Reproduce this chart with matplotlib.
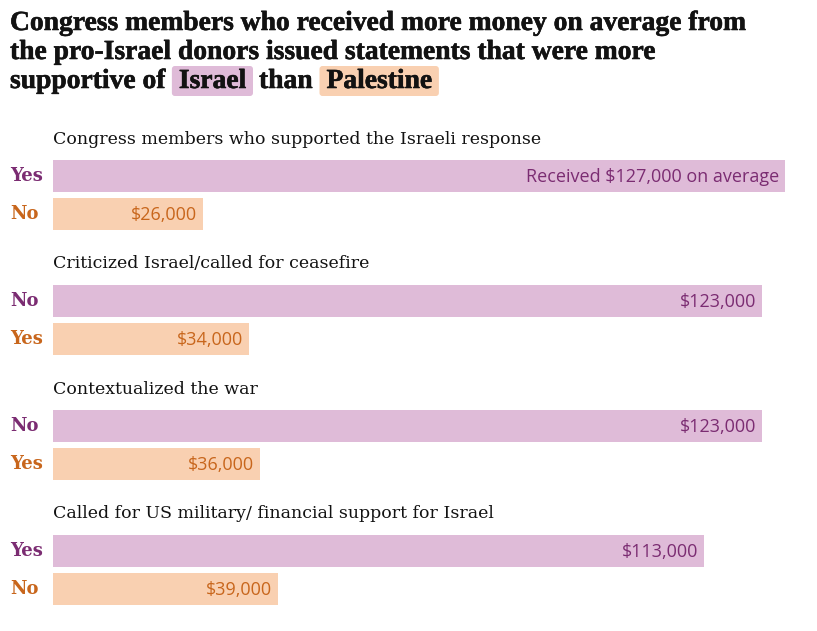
import matplotlib
matplotlib.use("Agg")
import matplotlib.pyplot as plt
import matplotlib.patheffects as pe
from matplotlib.patches import FancyBboxPatch

# ---- data ----
headings = [
    "Congress members who supported the Israeli response",
    "Criticized Israel/called for ceasefire",
    "Contextualized the war",
    "Called for US military/ financial support for Israel",
]
israel_labels = ["Yes", "No", "No", "Yes"]
israel_values = [127000, 123000, 123000, 113000]
palestine_labels = ["No", "Yes", "Yes", "No"]
palestine_values = [26000, 34000, 36000, 39000]

title_lines = [
    "Congress members who received more money on average from",
    "the pro-Israel donors issued statements that were more",
]

PURPLE_BAR = "#dfbbd8"
ORANGE_BAR = "#f9d0b1"
PURPLE_TXT = "#7b2c72"
ORANGE_TXT = "#c8661c"

W, H = 817, 631
fig = plt.figure(figsize=(W / 100, H / 100), dpi=100)
ax = fig.add_axes([0, 0, 1, 1])
ax.set_axis_off()

x0px, x1px = 53, 785
scale = (x1px - x0px) / max(israel_values)  # px per dollar
ax.set_xlim(-x0px / scale, (W - x0px) / scale)
ax.set_ylim(H, 0)

def px2x(px):
    return (px - x0px) / scale

serif = "DejaVu Serif"
tserif = "Liberation Serif"
sans = "Open Sans"

bar_h = 32
for g in range(4):
    top = 160 + 125 * g
    yc1 = top + bar_h / 2
    yc2 = yc1 + 38
    ax.text(px2x(53), top - 21, headings[g], fontsize=12.5, family=serif,
            va="center", ha="left", color="#121212")
    ax.barh([yc1], [israel_values[g]], height=bar_h, color=PURPLE_BAR, left=0)
    ax.barh([yc2], [palestine_values[g]], height=bar_h, color=ORANGE_BAR, left=0)
    ax.text(px2x(10), yc1, israel_labels[g], fontsize=13, family=serif,
            fontweight="bold", color=PURPLE_TXT, va="center", ha="left")
    ax.text(px2x(10), yc2, palestine_labels[g], fontsize=13, family=serif,
            fontweight="bold", color=ORANGE_TXT, va="center", ha="left")
    lab1 = f"${israel_values[g]:,}"
    if g == 0:
        lab1 = f"Received {lab1} on average"
    ax.text(israel_values[g] - px2x(53 + 6), yc1 + 1, lab1, fontsize=13,
            family=sans, color=PURPLE_TXT, va="center", ha="right")
    ax.text(palestine_values[g] - px2x(53 + 6), yc2 + 1, f"${palestine_values[g]:,}",
            fontsize=13, family=sans, color=ORANGE_TXT, va="center", ha="right")

# ---- title ----
renderer = fig.canvas.get_renderer()
heavy = [pe.Stroke(linewidth=0.4, foreground="#121212"), pe.Normal()]
kw = dict(family=tserif, fontweight="bold", color="#121212", va="baseline",
          ha="left", path_effects=heavy)
t0 = fig.text(10 / W, 1 - 30 / H, title_lines[0], fontsize=17, **kw)
w0 = t0.get_window_extent(renderer).width
tfs = 17 * 737 / w0
t0.set_fontsize(tfs)
fig.text(10 / W, 1 - 59 / H, title_lines[1], fontsize=tfs, **kw)

base_y = 1 - 88 / H
xcur = 10
parts = [("supportive of", None), ("Israel", PURPLE_BAR), ("than", None), ("Palestine", ORANGE_BAR)]
for txt, bg in parts:
    if bg is not None:
        xcur += 8
    t = fig.text(xcur / W, base_y, txt, fontsize=tfs, **kw)
    bb = t.get_window_extent(renderer)
    if bg is not None:
        pad = 7
        rect = FancyBboxPatch((bb.x0 - pad, (H - 96)), bb.width + 2 * pad, 30,
                              boxstyle="round,pad=0,rounding_size=3",
                              transform=None, facecolor=bg, edgecolor="none", zorder=0)
        fig.patches.append(rect)
        xcur = bb.x1 + pad + 6
    else:
        xcur = bb.x1 + 6

fig.savefig("out.png", dpi=100, facecolor="white")
